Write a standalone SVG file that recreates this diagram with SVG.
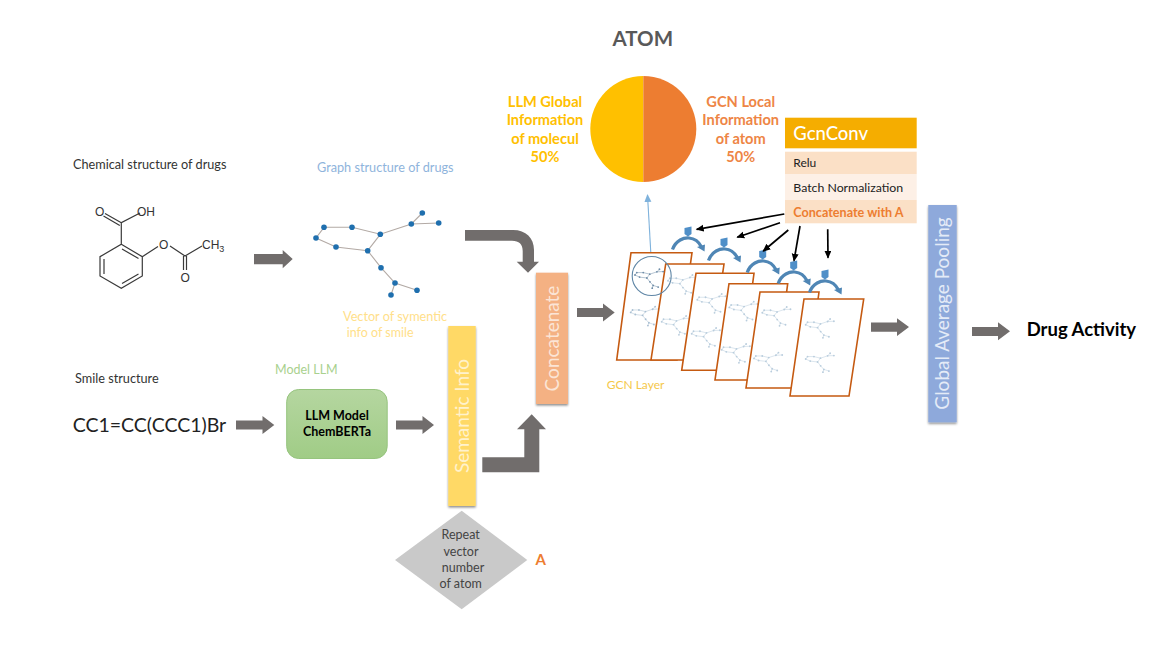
<svg xmlns="http://www.w3.org/2000/svg" xmlns:xlink="http://www.w3.org/1999/xlink" width="1168" height="666" viewBox="0 0 1168 666">
<style>
text{font-family:"Lato","Carlito","Liberation Sans",sans-serif}
.arrow{fill:#716d6c}
.b{font-weight:700}
.dark{fill:#333;font-size:12.7px}
.mid{text-anchor:middle}
.vert{text-anchor:middle;font-size:19px}
.yl{fill:#ffc000;font-size:14.6px;font-weight:700;text-anchor:middle}
.or{fill:#ee8545;font-size:14.6px;font-weight:700;text-anchor:middle}
.rep{fill:#444;font-size:12.5px;text-anchor:middle}
.layer{fill:#fff;stroke:#c55a11;stroke-width:1.6}
.bond{stroke:#b3aaa5;stroke-width:1.1;fill:none}
.atom{fill:#1f6fae}
.mol{stroke:#3a3a3a;stroke-width:1.2;fill:none}
.moltxt{fill:#333;font-size:12px;font-family:"Liberation Sans",sans-serif}
.blk{stroke:#000;stroke-width:1.7;fill:none;marker-end:url(#bk)}
.curl{fill:none;stroke:#4f86b5;stroke-width:3.2}
</style>
<defs>
<filter id="sh" x="-20%" y="-5%" width="140%" height="110%"><feDropShadow dx="0" dy="1.5" stdDeviation="1.2" flood-color="#000" flood-opacity=".45"/></filter>
<linearGradient id="grn" x1="0" y1="0" x2="0" y2="1"><stop offset="0" stop-color="#b5d6a0"/><stop offset="1" stop-color="#a0cc86"/></linearGradient>
<marker id="bk" markerWidth="9" markerHeight="8" refX="7" refY="3.5" orient="auto" markerUnits="userSpaceOnUse"><path d="M0 0L8 3.5L0 7Z" fill="#000"/></marker>
<marker id="lb" markerWidth="9" markerHeight="8" refX="7" refY="3.5" orient="auto" markerUnits="userSpaceOnUse"><path d="M0 0L8 3.5L0 7Z" fill="#7fb2dc"/></marker>
<g id="bigbonds"><path class="bond" d="M422.3 213L411.3 224L380.3 234.3L352 227.3L324 227.3L316 238L336 247L367.7 250.7L381 267.7L395 283L417 290.3M438.7 223L411.3 224M380.3 234.3L367.7 250.7M395 283L391 295"/></g>
<g id="tiny" transform="translate(-72.7 -49) scale(.23)"><path fill="none" stroke="currentColor" stroke-width="2.2" d="M422.3 213L411.3 224L380.3 234.3L352 227.3L324 227.3L316 238L336 247L367.7 250.7L381 267.7L395 283L417 290.3M438.7 223L411.3 224M380.3 234.3L367.7 250.7M395 283L391 295"/><g fill="currentColor"><circle cx="422.3" cy="213" r="4"/><circle cx="438.7" cy="223" r="4"/><circle cx="411.3" cy="224" r="4"/><circle cx="380.3" cy="234.3" r="4"/><circle cx="352" cy="227.3" r="4"/><circle cx="324" cy="227.3" r="4"/><circle cx="316" cy="238" r="4"/><circle cx="336" cy="247" r="4"/><circle cx="367.7" cy="250.7" r="4"/><circle cx="381" cy="267.7" r="4"/><circle cx="395" cy="283" r="4"/><circle cx="417" cy="290.3" r="4"/><circle cx="391" cy="295" r="4"/></g></g>
<g id="curl"><path class="curl" d="M-15.5 17.5C-12 8 -4 5.5 1 6C7 6.5 11 10 13.5 15"/><path d="M9 15L17 12.5L16.5 19.5Z" fill="#4f86b5"/><path d="M-3.5 -4L3.5 -5.5V2L0 4.5L-3.5 2Z" fill="#4f8fc8"/></g>
</defs>

<rect width="1168" height="666" fill="#fff"/>

<g id="molecule">
<path class="mol" d="M121.3 244.3L142.3 256.7V276L121.3 288.3L100 276V256.7ZM104 259V274M122 283.5L138.5 274M122 249L138.5 258.5M121.3 244.3V222.7L140 213M121.3 222.7L105 213.5M119.8 225.5L103.5 216M142.3 256.7L158 246.5M170 246L185 256L202 246M183.5 256V270M186.5 256V270"/>
<text class="moltxt" x="95" y="215.5">O</text><text class="moltxt" x="137" y="215.5">OH</text><text class="moltxt" x="159" y="248.5">O</text><text class="moltxt" x="180.5" y="282">O</text><text class="moltxt" x="202" y="249">CH<tspan font-size="9" dy="3">3</tspan></text>
</g>
<g id="graph-structure">
<use xlink:href="#bigbonds" href="#bigbonds"/>
<g class="atom"><circle cx="422.3" cy="213" r="2.8"/><circle cx="438.7" cy="223" r="2.8"/><circle cx="411.3" cy="224" r="2.8"/><circle cx="380.3" cy="234.3" r="2.8"/><circle cx="352" cy="227.3" r="2.8"/><circle cx="324" cy="227.3" r="2.8"/><circle cx="316" cy="238" r="2.8"/><circle cx="336" cy="247" r="2.8"/><circle cx="367.7" cy="250.7" r="2.8"/><circle cx="381" cy="267.7" r="2.8"/><circle cx="395" cy="283" r="2.8"/><circle cx="417" cy="290.3" r="2.8"/><circle cx="391" cy="295" r="2.8"/></g>
</g>

<text class="dark" x="73" y="169">Chemical structure of drugs</text>
<text x="317" y="172" font-size="12.7" fill="#8fb4dc">Graph structure of drugs</text>
<text x="343" y="320.7" font-size="12.7" fill="#ffe08a">Vector of symentic</text>
<text x="346.7" y="336.7" font-size="12.5" fill="#ffe08a">info of smile</text>
<text x="275" y="374" font-size="12.5" fill="#a9d18e">Model LLM</text>
<text class="dark" x="75" y="382.7">Smile structure</text>
<text x="72.7" y="431.5" font-size="19.5" fill="#222">CC1=CC(CCC1)Br</text>
<text x="606.7" y="389" font-size="12" fill="#f5c84a">GCN Layer</text>

<g id="connectors">
<path class="arrow" d="M254 254H282.7V250L292.7 259L282.7 268.300V264.300H254Z"/>
<path class="arrow" d="M236 420.500H262.500V416L274.300 425L262.500 434V429.500H236Z"/>
<path class="arrow" d="M396 420.500H422.500V416L434 425L422.500 434V429.500H396Z"/>
<path class="arrow" d="M577 308H603V303.500L614.700 312.500L603 321.500V317H577Z"/>
<path class="arrow" d="M871 322.500H897V318.300L909 327L897 336V331.800H871Z"/>
<path class="arrow" d="M972 327H998V322.300L1010 331.300L998 340.300V336H972Z"/>
<path class="arrow" d="M465 230H513C526 230 534 238 534 250V261.700H539L528 272.700L516.700 261.700H522.700V251C522.700 244 519 240.700 512 240.700H465Z"/>
<path class="arrow" d="M482.300 457.300H524.300V429.300H517L531.700 414.300L546 429.300H539.300V472.300H482.300Z"/>
<line x1="651" y1="256" x2="647.500" y2="195" stroke="#7fb2dc" stroke-width="1.1" marker-end="url(#lb)"/>
</g>

<g id="layer-1"><path class="layer" d="M631 252.700H692L677 360H616.700Z"/><use href="#tiny" transform="translate(630.7 306.700)" color="#a9bfd2"/></g>
<g id="layer-2"><path class="layer" d="M665.700 264H724L710 360H651Z"/><use href="#tiny" transform="translate(668 275)" color="#b9cddd"/><use href="#tiny" transform="translate(661.700 316)" color="#b9cddd"/></g>
<g id="layer-3"><path class="layer" d="M696 273.300H754L741 370.300H681.700Z"/><use href="#tiny" transform="translate(697.300 294)" color="#b9cddd"/><use href="#tiny" transform="translate(691.700 328)" color="#b9cddd"/></g>
<g id="layer-4"><path class="layer" d="M729 283.700H787.700L775 380H715Z"/><use href="#tiny" transform="translate(729.300 301.700)" color="#b9cddd"/><use href="#tiny" transform="translate(721.700 344)" color="#b9cddd"/></g>
<g id="layer-5"><path class="layer" d="M760 292H819L806 388H746Z"/><use href="#tiny" transform="translate(762.300 307)" color="#b9cddd"/><use href="#tiny" transform="translate(754 352.700)" color="#b9cddd"/></g>
<g id="layer-6"><path class="layer" d="M804 299H863.700L849 396H790Z"/><use href="#tiny" transform="translate(805.700 319)" color="#b9cddd"/><use href="#tiny" transform="translate(805.700 353.300)" color="#b9cddd"/></g>
<g id="focus-circle"><use href="#tiny" transform="translate(635 269.300)" color="#6f8da8"/><circle cx="651.700" cy="276" r="19.500" fill="none" stroke="#5f86a6" stroke-width="1.1"/></g>

<g id="curls">
<use href="#curl" transform="translate(688 232)"/>
<use href="#curl" transform="translate(724 243)"/>
<use href="#curl" transform="translate(762.700 255)"/>
<use href="#curl" transform="translate(793.700 266)"/>
<use href="#curl" transform="translate(825 275)"/>
</g>

<g id="connectors-black">
<line class="blk" x1="784.300" y1="214" x2="696.700" y2="229.300"/>
<line class="blk" x1="780" y1="222.700" x2="737.300" y2="237.300"/>
<line class="blk" x1="788.300" y1="230" x2="763.300" y2="251"/>
<line class="blk" x1="800" y1="226" x2="794" y2="260.700"/>
<line class="blk" x1="827.700" y1="229.300" x2="828" y2="257.700"/>
</g>

<g id="llm-model"><rect x="286.700" y="389.500" width="100.500" height="69" rx="12" fill="url(#grn)" stroke="#96c47e" stroke-width="1"/><text class="b mid" x="337" y="419.500" font-size="12.500" fill="#000">LLM Model</text><text class="b mid" x="337" y="435.700" font-size="12.500" fill="#000">ChemBERTa</text></g>
<g id="semantic-info"><rect x="448.300" y="326" width="27.400" height="180" fill="#ffd966" filter="url(#sh)"/><text class="vert" transform="translate(468.500 416) rotate(-90)" fill="#fff2cc">Semantic Info</text></g>
<g id="concatenate"><rect x="536" y="272.700" width="32" height="131.300" fill="#f4b183" filter="url(#sh)"/><text class="vert" transform="translate(558.500 338.500) rotate(-90)" fill="#fbe5d6">Concatenate</text></g>
<g id="global-pooling"><rect x="928.300" y="205" width="28.400" height="217.300" fill="#8ea9db" filter="url(#sh)"/><text class="vert" transform="translate(948.500 313.500) rotate(-90)" fill="#e4ebf7">Global Average Pooling</text></g>

<g id="repeat-vector"><path d="M461.700 510.700L527.300 560L461.700 609.300L395 560Z" fill="#c9c9c9"/><text class="rep" x="460.700" y="539.300">Repeat</text><text class="rep" x="461" y="555.700">vector</text><text class="rep" x="463" y="572">number</text><text class="rep" x="460.700" y="588.300">of atom</text></g>
<text class="b" x="535.500" y="565.300" font-size="15" fill="#ed7d31">A</text>

<g id="atom-pie"><path d="M643.300 76A53 53 0 0 0 643.300 182Z" fill="#ffc000"/><path d="M643.300 76A53 53 0 0 1 643.300 182Z" fill="#ed7d31"/></g>
<text class="b" x="612.500" y="45.500" font-size="20.500" fill="#595959">ATOM</text>
<text class="yl" x="545" y="106.700">LLM Global</text><text class="yl" x="545" y="125.300">Information</text><text class="yl" x="545" y="143.700">of molecul</text><text class="yl" x="545" y="162">50%</text>
<text class="or" x="740.700" y="106.700">GCN Local</text><text class="or" x="740.700" y="125.300">Information</text><text class="or" x="740.700" y="143.700">of atom</text><text class="or" x="740.700" y="162">50%</text>

<g id="gcnconv">
<rect x="785" y="117.700" width="131.700" height="30.600" fill="#f5ad00"/>
<rect x="785" y="151.700" width="131.700" height="22.300" fill="#fbe0c6"/>
<rect x="785" y="174" width="131.700" height="26" fill="#fdf0e6"/>
<rect x="785" y="200" width="131.700" height="23.300" fill="#fbe0c6"/>
<text x="793.300" y="140" font-size="18.500" font-weight="500" fill="#fff">GcnConv</text>
<text x="793.300" y="166.700" font-size="12" fill="#222">Relu</text>
<text x="793.300" y="191.700" font-size="12.300" fill="#222">Batch Normalization</text>
<text class="b" x="793.300" y="216.700" font-size="12.600" fill="#ed7d31">Concatenate with A</text>
</g>
<g id="drug-activity"><text class="b" x="1026.700" y="336" font-size="18.500" fill="#000">Drug Activity</text></g>
</svg>
